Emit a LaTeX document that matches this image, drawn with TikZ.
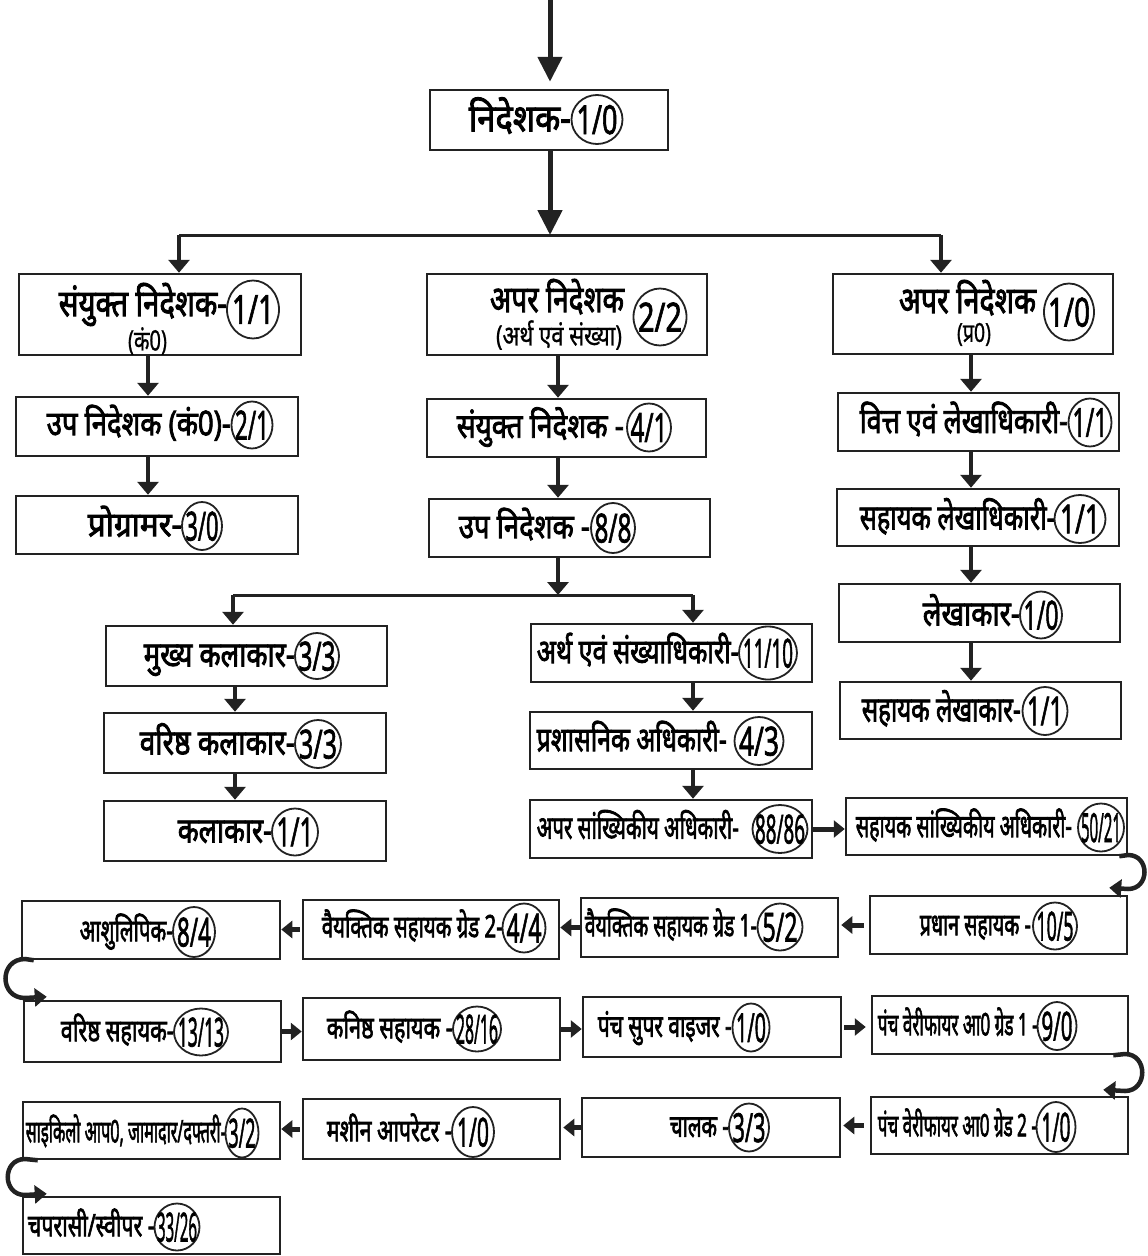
\documentclass[tikz,border=0pt]{standalone}
\usepackage{fontspec}
\usepackage{graphicx}
\usetikzlibrary{arrows.meta,shapes.geometric}
\newfontfamily\hindim[Script=Devanagari,FakeBold=1]{Noto Sans}
\newfontfamily\hindib[Script=Devanagari,FakeBold=2.6]{Noto Sans}
\newfontfamily\numf[FakeBold=2]{Noto Sans}
\definecolor{ink}{HTML}{222222}
\tikzset{
  box/.style={draw=ink, line width=2.5pt, inner sep=0pt},
  lbl/.style={inner sep=0pt, anchor=base east, text=black, text depth=0pt},
  lblc/.style={inner sep=0pt, anchor=base, text=black, text depth=0pt},
  numc/.style={draw=ink, ellipse, line width=1.8pt, inner sep=0pt, font=\numf\fontsize{40}{40}\selectfont},
  bigarr/.style={draw=ink, line width=5pt, -{Triangle[length=25pt,width=24pt]}},
  varr/.style={draw=ink, line width=4.5pt, -{Triangle[length=13pt,width=21pt]}},
  tline/.style={draw=ink, line width=3pt},
  harr/.style={draw=ink, line width=5pt, -{Triangle[length=11pt,width=17pt]}},
  uarr/.style={draw=ink, line width=4.5pt, -{Triangle[length=12pt,width=18pt]}},
}
% box: name, cx, cy, w, h
\newcommand\mkbox[5]{\node[box,minimum width=#4pt,minimum height=#5pt] (#1) at (#2,#3) {};}
% label anchored at right end: name, right x, centre y, width, size, text
\newcommand\hlab[6]{\node[lbl,font=\hindib\fontsize{#5}{#5}\selectfont] (#1) at ({#2},{#3+0.3*#5}) {\resizebox{#4pt}{\height}{#6}};}
% centred label (bold)
\newcommand\hlabc[6]{\node[lblc,font=\hindib\fontsize{#5}{#5}\selectfont] (#1) at ({#2},{#3+0.3*#5}) {\resizebox{#4pt}{\height}{#6}};}
% centred label (regular)
\newcommand\hlabr[6]{\node[lblc,font=\hindim\fontsize{#5}{#5}\selectfont] (#1) at ({#2},{#3+0.3*#5}) {\resizebox{#4pt}{\height}{#6}};}
% encircled number: name, cx, cy, w, h, text width, text
\newcommand\cnum[7]{\node[numc,minimum width=#4pt,minimum height=#5pt] (#1) at (#2,#3) {\makebox[0pt]{\smash{\raisebox{-0.5\height}{\resizebox{#6pt}{\height}{#7}}}}};}

\begin{document}
\begin{tikzpicture}[x=1pt,y=-1pt]
\useasboundingbox (0,0) rectangle (1148,1256);

% ---------- boxes ----------
\mkbox{t0}{549}{120}{238}{60}
\mkbox{l1}{160}{314.5}{282}{81}
\mkbox{m1}{567}{314.5}{280}{81}
\mkbox{r1}{973}{314}{280}{80}
\mkbox{l2}{157}{426.5}{282}{59}
\mkbox{m2}{566.5}{428}{279}{58}
\mkbox{r2}{978.5}{422}{281}{58}
\mkbox{l3}{157}{525}{282}{58}
\mkbox{m3}{569.5}{528}{281}{58}
\mkbox{r3}{978}{517.5}{282}{57}
\mkbox{r4}{979.5}{613}{281}{58}
\mkbox{r5}{980.5}{710.5}{281}{57}
\mkbox{a1}{246.5}{656}{281}{60}
\mkbox{a2}{245}{743}{282}{60}
\mkbox{a3}{245}{831}{282}{60}
\mkbox{b1}{671.5}{653}{281}{58}
\mkbox{b2}{671}{740.5}{282}{57}
\mkbox{b3}{671}{829}{282}{58}
\mkbox{c0}{986.5}{826.5}{281}{57}
\mkbox{d1}{998.5}{925}{257}{58}
\mkbox{d2}{709.5}{927.5}{257}{59}
\mkbox{d3}{431}{929.5}{256}{59}
\mkbox{d4}{151}{930}{258}{58}
\mkbox{e1}{152.5}{1031.5}{257}{61}
\mkbox{e2}{431.5}{1029}{257}{62}
\mkbox{e3}{712}{1027}{258}{60}
\mkbox{e4}{1000}{1025}{256}{58}
\mkbox{f1}{999.5}{1125.5}{257}{57}
\mkbox{f2}{711}{1127.5}{258}{59}
\mkbox{f3}{431.5}{1129}{257}{60}
\mkbox{f4}{151.5}{1130.5}{257}{57}
\mkbox{f5}{151.5}{1225.5}{257}{57}

% ---------- texts ----------
\hlab{t0t}{571}{120}{102}{38}{निदेशक-}
\cnum{t0c}{597}{119.5}{51}{49}{41}{1/0}

\hlab{l1t}{227}{305}{168}{37}{संयुक्त निदेशक-}
\hlabr{l1s}{147.5}{342}{39}{28}{(कं0)}
\cnum{l1c}{253}{309.5}{52}{58}{42}{1/1}

\hlab{l2t}{231}{425}{184}{34}{उप निदेशक (कं0)-}
\cnum{l2c}{252}{425}{41}{47}{34}{2/1}

\hlab{l3t}{182}{526}{94}{34}{प्रोग्रामर-}
\cnum{l3c}{202}{526}{40}{48}{33}{3/0}

\hlabc{m1t}{557}{301}{134}{37}{अपर निदेशक}
\hlabr{m1s}{559}{337}{126}{28}{(अर्थ एवं संख्या)}
\cnum{m1c}{660}{317}{53}{57}{44}{2/2}

\hlab{m2t}{624}{427.5}{167}{34}{संयुक्त निदेशक -}
\cnum{m2c}{649}{427.5}{44}{48}{37}{4/1}

\hlab{m3t}{590}{528}{131}{34}{उप निदेशक -}
\cnum{m3c}{613}{528}{44}{50}{37}{8/8}

\hlabc{r1t}{967.5}{302}{137}{37}{अपर निदेशक}
\hlabr{r1s}{974}{334}{34}{26}{(प्र0)}
\cnum{r1c}{1069}{312}{50}{57}{42}{1/0}

\hlab{r2t}{1068}{422.5}{208}{35}{वित्त एवं लेखाधिकारी-}
\cnum{r2c}{1090}{422.5}{43}{48}{35}{1/1}

\hlab{r3t}{1055}{519}{195}{35}{सहायक लेखाधिकारी-}
\cnum{r3c}{1080}{519}{51}{48}{40}{1/1}

\hlab{r4t}{1020}{615}{97}{35}{लेखाकार-}
\cnum{r4c}{1041}{615}{42}{47}{35}{1/0}

\hlab{r5t}{1021}{711}{159}{35}{सहायक लेखाकार-}
\cnum{r5c}{1045}{711}{45}{48}{36}{1/1}

\hlab{c0t}{1072}{827.5}{216}{32}{सहायक सांख्यिकीय अधिकारी-}
\cnum{c0c}{1101}{827.5}{46}{48}{40}{50/21}

\hlab{a1t}{295}{656}{151}{35}{मुख्य कलाकार-}
\cnum{a1c}{317}{656}{44}{46}{37}{3/3}
\hlab{a2t}{295}{744}{155}{35}{वरिष्ठ कलाकार-}
\cnum{a2c}{318}{744}{46}{48}{38}{3/3}
\hlab{a3t}{272}{832}{94}{35}{कलाकार-}
\cnum{a3c}{295}{832}{46}{47}{37}{1/1}

\hlab{b1t}{739}{653}{202}{34}{अर्थ एवं संख्याधिकारी-}
\cnum{b1c}{768}{653}{58}{53}{50}{11/10}
\hlab{b2t}{727}{741}{190}{34}{प्रशासनिक अधिकारी-}
\cnum{b2c}{759}{741}{49}{48}{40}{4/3}
\hlab{b3t}{739}{829}{202}{32}{अपर सांख्यिकीय अधिकारी-}
\cnum{b3c}{780}{829}{55}{48}{50}{88/86}

\hlab{d1t}{1031}{926}{111}{31}{प्रधान सहायक -}
\cnum{d1c}{1055}{926}{44}{47}{37}{10/5}
\hlab{d2t}{757}{927}{172}{31}{वैयक्तिक सहायक ग्रेड 1-}
\cnum{d2c}{780}{927}{45}{47}{35}{5/2}
\hlab{d3t}{503}{928}{181}{31}{वैयक्तिक सहायक ग्रेड 2-}
\cnum{d3c}{524}{928}{43}{49}{35}{4/4}
\hlab{d4t}{173}{932}{93}{31}{आशुलिपिक-}
\cnum{d4c}{194}{932}{42}{50}{34}{8/4}

\hlab{e1t}{174}{1032}{113}{31}{वरिष्ठ सहायक-}
\cnum{e1c}{201}{1032}{54}{47}{46}{13/13}
\hlab{e2t}{453}{1029}{126}{31}{कनिष्ठ सहायक -}
\cnum{e2c}{477}{1029}{48}{45}{42}{28/16}
\hlab{e3t}{732}{1027.5}{134}{31}{पंच सुपर वाइजर -}
\cnum{e3c}{751}{1027.5}{37}{48}{30}{1/0}
\hlab{e4t}{1038}{1026}{160}{31}{पंच वेरीफायर आ0 ग्रेड 1 -}
\cnum{e4c}{1057}{1026}{39}{48}{31}{9/0}

\hlab{f1t}{1037}{1127}{159}{31}{पंच वेरीफायर आ0 ग्रेड 2 -}
\cnum{f1c}{1056}{1127}{39}{50}{29}{1/0}
\hlab{f2t}{729}{1127.5}{59}{31}{चालक -}
\cnum{f2c}{749}{1127.5}{40}{48}{33}{3/3}
\hlab{f3t}{452}{1132}{125}{31}{मशीन आपरेटर -}
\cnum{f3c}{473}{1132}{42}{50}{32}{1/0}
\hlab{f4t}{226}{1133}{200}{31}{साइकिलो आप0, जामादार/दफ्तरी-}
\cnum{f4c}{242}{1133}{33}{49}{27}{3/2}
\hlab{f5t}{155}{1227}{127}{31}{चपरासी/स्वीपर -}
\cnum{f5c}{177}{1227}{45}{47}{40}{33/26}

% ---------- connectors ----------
\coordinate (top) at (550,0);
\coordinate (j1) at (550,235);
\coordinate (j1l) at (179,235);
\coordinate (j1r) at (941,235);
\coordinate (xl) at (148,0);
\coordinate (xm) at (558,0);
\coordinate (xr) at (971,0);
\coordinate (xa) at (235,0);
\coordinate (j2) at (558,595);
\coordinate (j2l) at (233,595);
\coordinate (j2r) at (693,595);

\draw[bigarr, shorten >=7pt] (top) -- (top |- t0.north);
\draw[bigarr] (t0.south -| j1) -- (j1);
\draw[tline] (j1l) -- (j1r);
\draw[varr] (j1l) -- (j1l |- l1.north);
\draw[varr] (j1r) -- (j1r |- r1.north);

\draw[varr] (l1.south -| xl) -- (l2.north -| xl);
\draw[varr] (l2.south -| xl) -- (l3.north -| xl);
\draw[varr] (m1.south -| xm) -- (m2.north -| xm);
\draw[varr] (m2.south -| xm) -- (m3.north -| xm);
\draw[varr] (r1.south -| xr) -- (r2.north -| xr);
\draw[varr] (r2.south -| xr) -- (r3.north -| xr);
\draw[varr] (r3.south -| xr) -- (r4.north -| xr);
\draw[varr] (r4.south -| xr) -- (r5.north -| xr);

\draw[varr] (m3.south -| j2) -- (j2);
\draw[tline] (j2l) -- (j2r);
\draw[varr] (j2l) -- (j2l |- a1.north);
\draw[varr] (j2r) -- (j2r |- b1.north);
\draw[varr] (a1.south -| xa) -- (a2.north -| xa);
\draw[varr] (a2.south -| xa) -- (a3.north -| xa);
\draw[varr] (b1.south -| j2r) -- (b2.north -| j2r);
\draw[varr] (b2.south -| j2r) -- (b3.north -| j2r);

\draw[harr] (b3.east) -- (b3.east -| c0.west);
\draw[uarr] ([xshift=-9pt]c0.south east) -- (1128,855) .. controls (1150,855) and (1150,889) .. (1128,889) -- ([xshift=-19pt,yshift=7pt]d1.north east);
\draw[harr, shorten <=5pt, shorten >=2pt] (d1.west) -- (d1.west -| d2.east);
\draw[harr] (d2.west) -- (d2.west -| d3.east);
\draw[harr, shorten <=2pt] (d3.west) -- (d3.west -| d4.east);
\draw[uarr] ([xshift=13pt]d4.south west) -- (25,959) .. controls (-1,959) and (-1,998) .. (25,998) -- ([xshift=24pt,yshift=3pt]e1.north west);
\draw[harr] (e1.east) -- (e1.east -| e2.west);
\draw[harr] (e2.east) -- (e2.east -| e3.west);
\draw[harr, shorten <=2pt, shorten >=5pt] (e3.east) -- (e3.east -| e4.west);
\draw[uarr] ([xshift=-16pt]e4.south east) -- (1125,1054) .. controls (1148,1054) and (1148,1091) .. (1125,1091) -- ([xshift=-26pt,yshift=6pt]f1.north east);
\draw[harr, shorten <=6pt, shorten >=2pt] (f1.west) -- (f1.west -| f2.east);
\draw[harr, shorten >=2pt] (f2.west) -- (f2.west -| f3.east);
\draw[harr, shorten <=2pt] (f3.west) -- (f3.west -| f4.east);
\draw[uarr] ([xshift=16pt]f4.south west) -- (25,1159) .. controls (2,1159) and (2,1195) .. (25,1195) -- ([xshift=25pt,yshift=2pt]f5.north west);
\end{tikzpicture}
\end{document}
